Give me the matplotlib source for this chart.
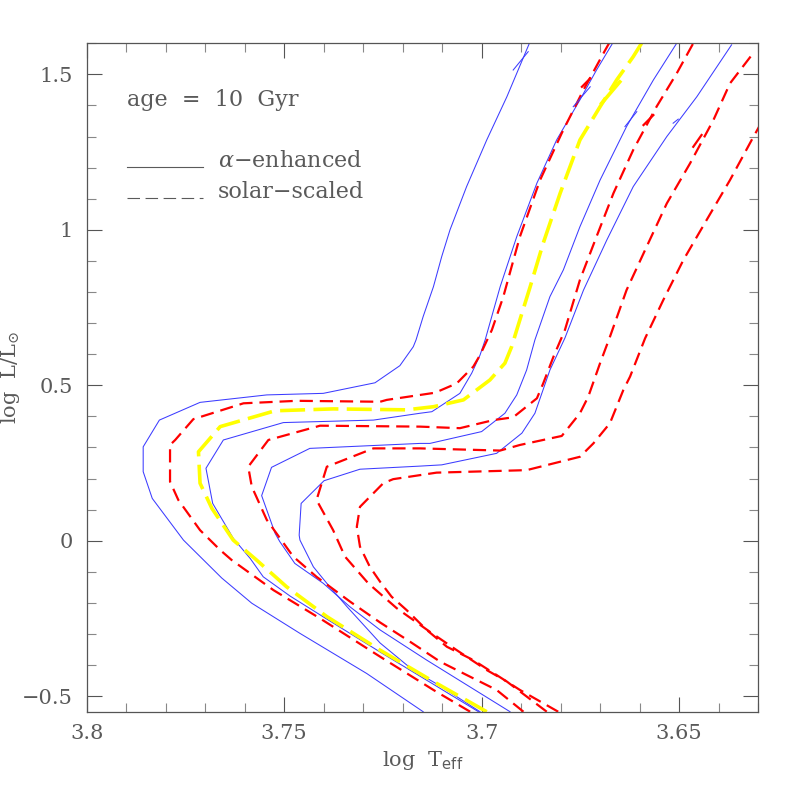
#!/usr/bin/env python

import matplotlib
matplotlib.use("Agg")
import matplotlib.pyplot as plt
from matplotlib.ticker import MultipleLocator

# isochrones, age = 10 Gyr (log Teff, log L/Lsun)
# alpha-enhanced (solid blue)
a1_logt = [3.7148, 3.7291, 3.7460, 3.7582, 3.7658, 3.7755, 3.7834, 3.7857, 3.7857, 3.7816,
           3.7713, 3.7544, 3.7401, 3.7270, 3.7207, 3.7173, 3.7166, 3.7148, 3.7122, 3.7101,
           3.7080, 3.7038, 3.6987, 3.6936, 3.6879]
a1_logl = [-0.550, -0.427, -0.298, -0.201, -0.120, 0.002, 0.136, 0.222, 0.302, 0.388,
           0.445, 0.469, 0.474, 0.508, 0.563, 0.624, 0.646, 0.721, 0.817, 0.914,
           1.000, 1.139, 1.289, 1.428, 1.600]

a2_logt = [3.7008, 3.7123, 3.7257, 3.7392, 3.7485, 3.7553, 3.7586, 3.7629, 3.7681, 3.7698,
           3.7654, 3.7502, 3.7274, 3.7156, 3.7126, 3.7055, 3.7025, 3.7004, 3.6991, 3.6953,
           3.6911, 3.6860, 3.6810, 3.6751, 3.6709, 3.6666]
a2_logl = [-0.550, -0.461, -0.358, -0.252, -0.178, -0.116, -0.057, 0.008, 0.120, 0.233,
           0.324, 0.380, 0.388, 0.410, 0.415, 0.474, 0.539, 0.597, 0.646, 0.817,
           0.978, 1.150, 1.289, 1.418, 1.514, 1.605]

a3_logt = [3.6928, 3.7139, 3.7257, 3.7333, 3.7401, 3.7473, 3.7511, 3.7523, 3.7557, 3.7532,
           3.7435, 3.7156, 3.7131, 3.7000, 3.6941, 3.6911, 3.6886, 3.6865, 3.6827, 3.6793,
           3.6751, 3.6700, 3.6633, 3.6565, 3.6506]
a3_logl = [-0.550, -0.384, -0.287, -0.213, -0.137, -0.073, -0.003, 0.024, 0.145, 0.236,
           0.297, 0.313, 0.313, 0.351, 0.410, 0.469, 0.549, 0.646, 0.785, 0.871,
           1.010, 1.160, 1.332, 1.482, 1.600]

a4_logt = [3.7004, 3.7105, 3.7174, 3.7257, 3.7341, 3.7392, 3.7426, 3.7460, 3.7462, 3.7457,
           3.7399, 3.7308, 3.7156, 3.7101, 3.6962, 3.6898, 3.6865, 3.6827, 3.6789, 3.6742,
           3.6683, 3.6616, 3.6531, 3.6455, 3.6367]
a4_logl = [-0.550, -0.467, -0.416, -0.329, -0.212, -0.137, -0.084, 0.002, 0.018, 0.120,
           0.193, 0.230, 0.240, 0.244, 0.281, 0.346, 0.410, 0.549, 0.652, 0.806,
           0.967, 1.139, 1.300, 1.428, 1.595]

# solar-scaled (dashed red)
s1_logt = [3.7029, 3.7122, 3.7257, 3.7409, 3.7527, 3.7633, 3.7662, 3.7713, 3.7768, 3.7789,
           3.7789, 3.7776, 3.7730, 3.7603, 3.7468, 3.7257, 3.7240, 3.7118, 3.7063, 3.7021,
           3.7004, 3.6974, 3.6945, 3.6903, 3.6852, 3.6797, 3.6742, 3.6687, 3.6675]
s1_logl = [-0.550, -0.480, -0.373, -0.250, -0.159, -0.062, -0.030, 0.034, 0.131, 0.190,
           0.308, 0.324, 0.391, 0.442, 0.450, 0.447, 0.453, 0.476, 0.506, 0.560,
           0.597, 0.678, 0.785, 0.978, 1.160, 1.311, 1.450, 1.578, 1.605]

s2_logt = [3.6894, 3.6962, 3.7055, 3.7105, 3.7181, 3.7257, 3.7333, 3.7418, 3.7477, 3.7544,
           3.7582, 3.7591, 3.7540, 3.7409, 3.7156, 3.7055, 3.6970, 3.6920, 3.6860, 3.6844,
           3.6818, 3.6789, 3.6751, 3.6709, 3.6666, 3.6616, 3.6557, 3.6506, 3.6464]
s2_logl = [-0.550, -0.480, -0.421, -0.389, -0.325, -0.263, -0.196, -0.116, -0.051, 0.067,
           0.174, 0.238, 0.324, 0.370, 0.367, 0.362, 0.388, 0.397, 0.458, 0.506,
           0.592, 0.678, 0.839, 0.978, 1.118, 1.257, 1.396, 1.503, 1.600]

s3_logt = [3.6835, 3.6936, 3.6987, 3.7063, 3.7131, 3.7215, 3.7287, 3.7346, 3.7376, 3.7418,
           3.7392, 3.7274, 3.7156, 3.6953, 3.6903, 3.6797, 3.6751, 3.6730, 3.6700, 3.6675,
           3.6633, 3.6582, 3.6531, 3.6472, 3.6413, 3.6371, 3.6316]
s3_logl = [-0.550, -0.453, -0.416, -0.352, -0.293, -0.217, -0.137, -0.051, 0.034, 0.131,
           0.238, 0.297, 0.297, 0.290, 0.308, 0.337, 0.410, 0.463, 0.571, 0.656,
           0.806, 0.946, 1.085, 1.214, 1.353, 1.471, 1.562]

s4_logt = [3.6806, 3.6903, 3.7021, 3.7088, 3.7139, 3.7190, 3.7228, 3.7257, 3.7283, 3.7308,
           3.7316, 3.7308, 3.7249, 3.7224, 3.7114, 3.6886, 3.6751, 3.6717, 3.6675, 3.6641,
           3.6624, 3.6586, 3.6540, 3.6489, 3.6430, 3.6371, 3.6316, 3.6295]
s4_logl = [-0.550, -0.480, -0.384, -0.341, -0.287, -0.223, -0.180, -0.132, -0.084, -0.019,
           0.045, 0.109, 0.185, 0.198, 0.219, 0.227, 0.270, 0.313, 0.378, 0.485,
           0.528, 0.651, 0.774, 0.903, 1.032, 1.160, 1.289, 1.337]

# the highlighted one (long dashed yellow)
y_logt = [3.6987, 3.7122, 3.7257, 3.7392, 3.7494, 3.7570, 3.7629, 3.7683, 3.7713, 3.7717,
          3.7662, 3.7523, 3.7376, 3.7190, 3.7122, 3.7046, 3.6979, 3.6941, 3.6924, 3.6911,
          3.6877, 3.6844, 3.6801, 3.6751, 3.6700, 3.6658, 3.6616, 3.6595]
y_logl = [-0.550, -0.453, -0.352, -0.244, -0.148, -0.062, 0.002, 0.104, 0.185, 0.286,
          0.367, 0.418, 0.424, 0.421, 0.431, 0.453, 0.517, 0.571, 0.624, 0.678,
          0.817, 0.957, 1.118, 1.289, 1.396, 1.482, 1.557, 1.600]

# short strokes near the top of the giant branches (clump / AGB bits)
clump_logt = [(3.6920, 3.6882), (3.6768, 3.6725), (3.6637, 3.6607), (3.6515, 3.6502),
              (3.6746, 3.6725), (3.6590, 3.6565), (3.6464, 3.6443), (3.6696, 3.6650)]
clump_logl = [(1.514, 1.573), (1.396, 1.460), (1.332, 1.380), (1.343, 1.356),
              (1.460, 1.487), (1.337, 1.369), (1.267, 1.305), (1.407, 1.476)]
clump_kind = ['a', 'a', 'a', 'a', 's', 's', 's', 'y']

xticks = [3.8, 3.75, 3.7, 3.65]
xtick_labels = ['3.8', '3.75', '3.7', '3.65']
yticks = [-0.5, 0, 0.5, 1, 1.5]
ytick_labels = ['\u22120.5', '0', '0.5', '1', '1.5']

GREY = '#5a5a5a'
BLUE = '#3c3cff'
RED_DASH = (0, (9.5, 5.0))
YEL_DASH = (0, (18.0, 6.0))


def setup():
    plt.rcParams['font.family'] = ['DejaVu Serif']
    plt.rcParams['mathtext.fontset'] = 'dejavuserif'
    plt.rcParams['lines.scale_dashes'] = False
    plt.rcParams['axes.unicode_minus'] = True


def style_axes(ax):
    ax.set_xlim(3.8, 3.63)
    ax.set_ylim(-0.55, 1.6)
    ax.set_xticks(xticks)
    ax.set_xticklabels(xtick_labels)
    ax.set_yticks(yticks)
    ax.set_yticklabels(ytick_labels)
    ax.xaxis.set_minor_locator(MultipleLocator(0.01))
    ax.yaxis.set_minor_locator(MultipleLocator(0.1))
    ax.tick_params(which='both', direction='in', top=True, right=True, color='#555555', width=0.8)
    ax.tick_params(which='major', length=11, labelsize=15, labelcolor=GREY)
    ax.tick_params(axis='x', which='major', pad=9)
    ax.tick_params(axis='y', which='major', pad=10)
    ax.tick_params(which='minor', length=6.5, color='#888888')
    for s in ax.spines.values():
        s.set_color('#555555')
        s.set_linewidth(0.9)
    ax.set_xlabel(r'log  T$_{\mathsf{eff}}$', fontsize=15, color=GREY)
    ax.set_ylabel(r'log  L/L$_{\odot}$', fontsize=15, color=GREY)
    ax.xaxis.set_label_coords(0.5, -0.056)
    ax.yaxis.set_label_coords(-0.097, 0.5)


def main():
    setup()
    fig = plt.figure(figsize=(7.97, 7.97), dpi=100)
    ax = fig.add_axes([0.1088, 0.107, 0.8423, 0.8387])

    for t, l in [(a1_logt, a1_logl), (a2_logt, a2_logl), (a3_logt, a3_logl), (a4_logt, a4_logl)]:
        ax.plot(t, l, color=BLUE, lw=0.75)
    for t, l in [(s1_logt, s1_logl), (s2_logt, s2_logl), (s3_logt, s3_logl), (s4_logt, s4_logl)]:
        ax.plot(t, l, color='red', lw=1.6, linestyle=RED_DASH)
    ax.plot(y_logt, y_logl, color='yellow', lw=2.6, linestyle=YEL_DASH)

    for t, l, k in zip(clump_logt, clump_logl, clump_kind):
        if k == 'a':
            ax.plot(t, l, color=BLUE, lw=0.75)
        elif k == 's':
            ax.plot(t, l, color='red', lw=1.6)
        else:
            ax.plot(t, l, color='yellow', lw=2.6)

    # labels / key
    ax.text(0.06, 0.906, 'age  =  10  Gyr', transform=ax.transAxes, fontsize=16,
            color=GREY, va='baseline')
    ax.plot([0.0596, 0.1737], [0.8154, 0.8154], transform=ax.transAxes, color=GREY, lw=0.8)
    ax.plot([0.0596, 0.1737], [0.7685, 0.7685], transform=ax.transAxes, color=GREY, lw=0.8,
            linestyle=(0, (9, 4)))
    ax.text(0.1956, 0.8154, '$\\alpha$\u2212enhanced', transform=ax.transAxes, fontsize=16,
            color=GREY, va='baseline')
    ax.text(0.1956, 0.7685, 'solar\u2212scaled', transform=ax.transAxes, fontsize=16,
            color=GREY, va='baseline')

    style_axes(ax)
    fig.savefig('out.png', dpi=100)


if __name__ == '__main__':
    main()
